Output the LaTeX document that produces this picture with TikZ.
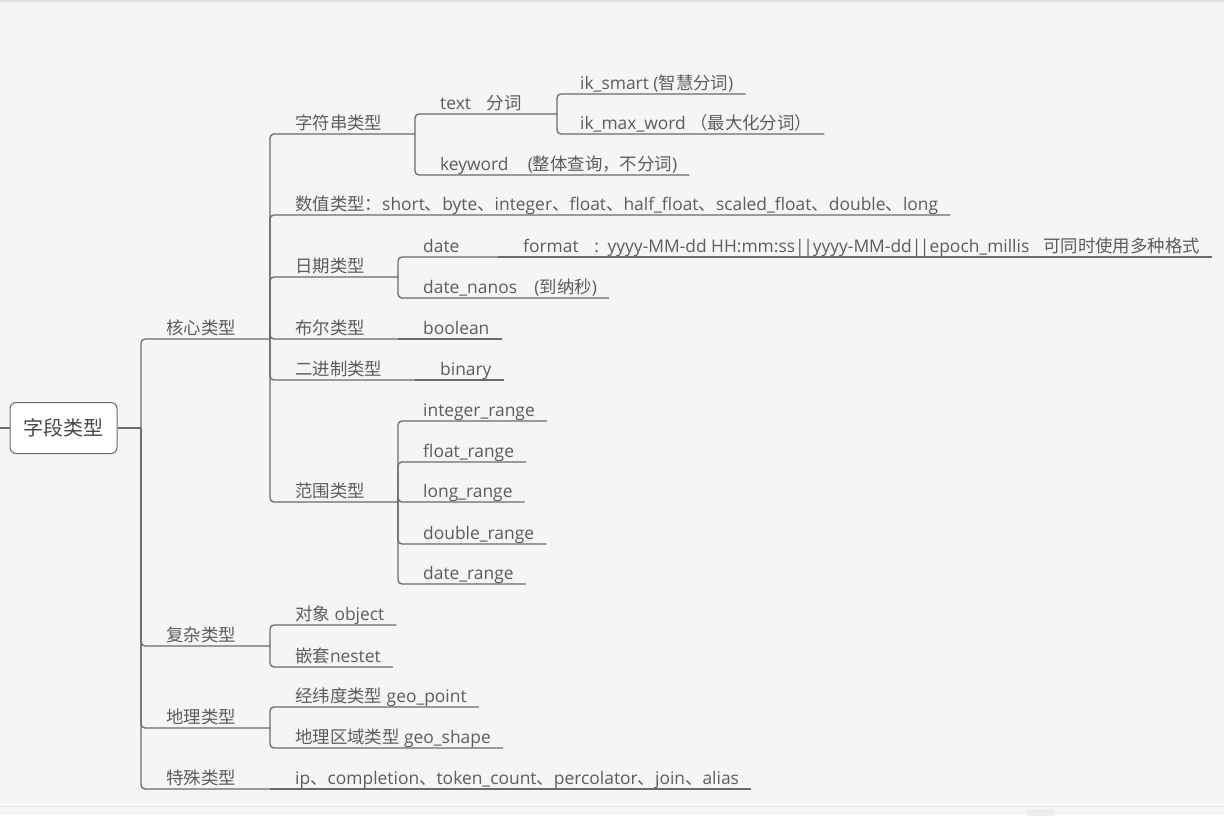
\documentclass[tikz,border=0pt]{standalone}
\usepackage{fontspec}
\setmainfont{Open Sans}
\newfontfamily\cjk{Noto Sans CJK SC}
\newcommand{\zh}[1]{{\cjk #1}}
\newcommand{\bars}{|\kern-1.5pt|}
\usetikzlibrary{calc}
\definecolor{bgc}{HTML}{F5F5F5}
\definecolor{linec}{HTML}{6A6A6A}
\definecolor{textc}{HTML}{5C5C5C}

\begin{document}
\begin{tikzpicture}[x=1pt, y=-1pt,
  topic/.style = {anchor=base west, inner sep=0pt, text=textc, font=\fontsize{17.4}{20}\selectfont},
  br/.style = {draw=linec, line width=1.3pt, rounded corners=4pt},
  root/.style = {draw=linec, line width=1pt, fill=white, rounded corners=6pt, minimum width=107pt, minimum height=51pt, text=black!72, font=\fontsize{20}{24}\selectfont\cjk}]
\fill[bgc] (0,0) rectangle (1224,815);
\useasboundingbox (0,0) rectangle (1224,815);
\draw[black!12, line width=1.5pt] (0,0.75) -- (1224,0.75);
\draw[black!10, line width=1pt] (0,806) -- (1224,806);
\fill[black!7, rounded corners=2pt] (1027,809) rectangle (1055,816);

\node[root] (root) at (63.5,428) {字段类型};
\coordinate (in) at (0,428);
\coordinate (rj) at (141,428);

\node[topic] (hx) at (166,334) {\zh{核心类型}};
\node[topic] (fz) at (166,641) {\zh{复杂类型}};
\node[topic] (dl) at (166,723) {\zh{地理类型}};
\node[topic] (ts) at (166,784) {\zh{特殊类型}};
\coordinate (hxj) at (270,339);
\coordinate (fzj) at (270,646);
\coordinate (dlj) at (270,728);
\coordinate (tsj) at (270,789);

\node[topic] (zf) at (295,129) {\zh{字符串类型}};
\node[topic] (sz) at (295,210) {\zh{数值类型：}short\zh{、}byte\zh{、}integer\zh{、}float\zh{、}half\_float\zh{、}scaled\_float\zh{、}double\zh{、}long};
\node[topic] (rq) at (295,272) {\zh{日期类型}};
\node[topic] (be) at (295,334) {\zh{布尔类型}};
\node[topic] (ej) at (295,375) {\zh{二进制类型}};
\node[topic] (fw) at (295,497) {\zh{范围类型}};
\coordinate (zfj) at (415,134);
\coordinate (rqj) at (398,277);
\coordinate (bej) at (398,339);
\coordinate (ejj) at (415,380);
\coordinate (fwj) at (398,502);

\node[topic] (fc) at (440,109) {text\hspace{0.9em}\zh{分词}};
\node[topic] (kw) at (440,170) {keyword\hspace{1.1em}(\zh{整体查询，不分词})};
\coordinate (fcj) at (557,114);
\node[topic] (ik1) at (580,89) {ik\_smart (\zh{智慧分词})};
\node[topic] (ik2) at (580,129) {ik\_max\_word \zh{（最大化分词）}};

\node[topic] (dt) at (423,252) {date};
\node[topic] (fm) at (523,252) {format\hspace{0.9em}:\hspace{0.5em}yyyy-MM-dd HH:mm:ss\bars yyyy-MM-dd\bars epoch\_millis};
\node[topic] (ks) at (1043,252) {\zh{可同时使用多种格式}};
\node[topic] (dn) at (423,293) {date\_nanos\hspace{1em}(\zh{到纳秒})};
\coordinate (dtj) at (498,257);

\node[topic] (bo) at (423,334) {boolean};
\node[topic] (bi) at (440,375) {binary};

\node[topic] (ir) at (423,416) {integer\_range};
\node[topic] (fr) at (423,457) {float\_range};
\node[topic] (lr) at (423,497) {long\_range};
\node[topic] (dr) at (423,539) {double\_range};
\node[topic] (dtr) at (423,579) {date\_range};

\node[topic] (dx) at (295,620) {\zh{对象} object};
\node[topic] (qt) at (295,662) {\zh{嵌套}nestet};
\node[topic] (jw) at (295,702) {\zh{经纬度类型} geo\_point};
\node[topic] (dq) at (295,743) {\zh{地理区域类型} geo\_shape};
\node[topic] (ip) at (295,784) {ip\zh{、}completion\zh{、}token\_count\zh{、}percolator\zh{、}join\zh{、}alias};

\draw[br] (in) -- (root);
\draw[br] (root.east) -- (rj);
\draw[br] (rj) |- (hxj);
\draw[br] (rj) |- (fzj);
\draw[br] (rj) |- (dlj);
\draw[br] (rj) |- (tsj);

\draw[br] (hxj) |- (zfj);
\draw[br] (hxj) |- ($(sz.base east)+(12,5)$);
\draw[br] (hxj) |- (rqj);
\draw[br] (hxj) |- (bej);
\draw[br] (hxj) |- (ejj);
\draw[br] (hxj) |- (fwj);

\draw[br] (zfj) |- (fcj);
\draw[br] (zfj) |- ($(kw.base east)+(12,5)$);
\draw[br] (fcj) |- ($(ik1.base east)+(12,5)$);
\draw[br] (fcj) |- ($(ik2.base east)+(12,5)$);

\draw[br] (rqj) |- (dtj);
\draw[br] (dtj) -- ($(ks.base east)+(12,5)$);
\draw[br] (rqj) |- ($(dn.base east)+(12,5)$);

\draw[br] (bej) -- ($(bo.base east)+(12,5)$);
\draw[br] (ejj) -- ($(bi.base east)+(12,5)$);

\draw[br] (fwj) |- ($(ir.base east)+(12,5)$);
\draw[br] (fwj) |- ($(fr.base east)+(12,5)$);
\draw[br] (fwj) |- ($(lr.base east)+(12,5)$);
\draw[br] (fwj) |- ($(dr.base east)+(12,5)$);
\draw[br] (fwj) |- ($(dtr.base east)+(12,5)$);

\draw[br] (fzj) |- ($(dx.base east)+(12,5)$);
\draw[br] (fzj) |- ($(qt.base east)+(12,5)$);
\draw[br] (dlj) |- ($(jw.base east)+(12,5)$);
\draw[br] (dlj) |- ($(dq.base east)+(12,5)$);
\draw[br] (tsj) -- ($(ip.base east)+(12,5)$);
\end{tikzpicture}
\end{document}
